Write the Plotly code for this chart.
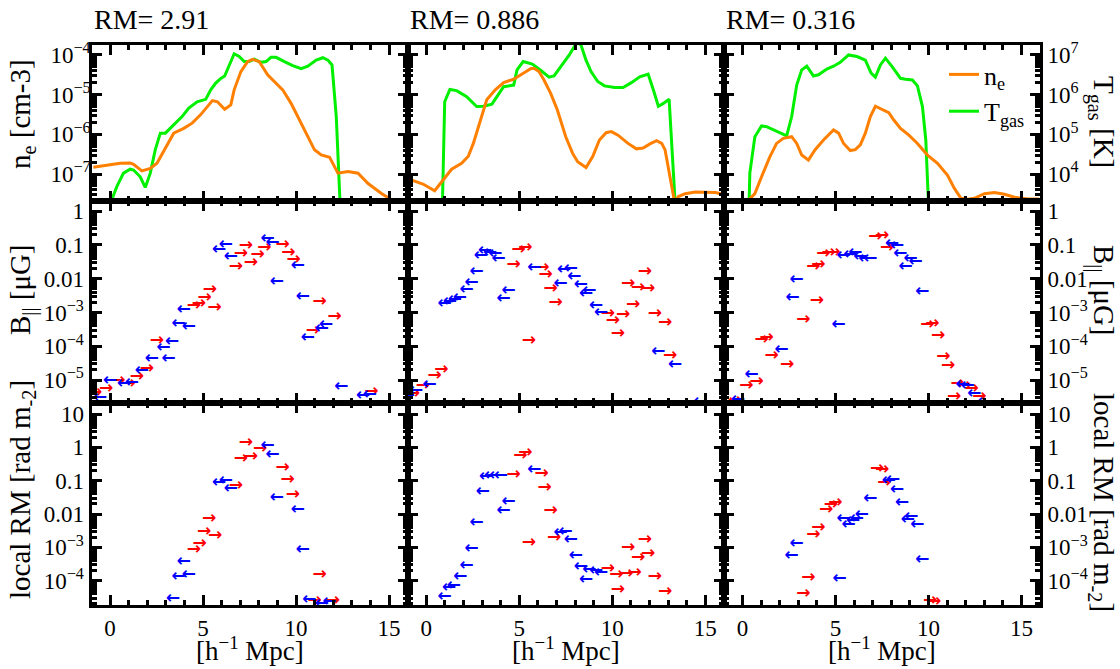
import plotly.graph_objects as go

# ---------------- data ----------------
panel_titles = ["RM= 2.91", "RM= 0.886", "RM= 0.316"]

# top row: electron density n_e [cm^-3] and gas temperature T_gas [K]
ne1_x = [-0.9, 0.0, 0.54, 1.08, 1.26, 1.71, 2.16, 2.52, 2.88, 3.42, 3.96, 4.41, 4.86, 5.50, 5.77, 6.16, 6.49, 6.67, 7.03, 7.39,
         7.66, 8.02, 8.47, 8.83, 9.28, 9.73, 10.18, 10.63, 10.99, 11.35, 11.80, 12.25, 12.79, 13.33, 13.87, 14.59, 15.3]
ne1_y = [1.48e-7, 1.70e-7, 1.86e-7, 1.9e-7, 1.75e-7, 1.2e-7, 1.38e-7, 1.86e-7, 3.63e-7, 1.07e-6, 1.41e-6, 1.91e-6, 3.09e-6,
         7.08e-6, 6.61e-6, 4.27e-6, 5.50e-6, 1.32e-5, 3.80e-5, 6.76e-5, 7.76e-5, 6.76e-5, 3.16e-5, 2.14e-5, 1.32e-5, 6.03e-6,
         2.29e-6, 8.71e-7, 4.07e-7, 3.02e-7, 2.63e-7, 1.05e-7, 1.15e-7, 1.05e-7, 5.75e-8, 3.24e-8, 2.0e-8]
T1_x = [0.05, 0.36, 0.72, 1.08, 1.26, 1.62, 1.89, 2.16, 2.43, 2.70, 2.97, 3.42, 3.87, 4.23, 4.68, 5.14, 5.41, 5.68, 5.95, 6.16,
        6.40, 6.67, 6.94, 7.21, 7.48, 7.75, 8.11, 8.38, 8.65, 8.92, 9.37, 9.82, 10.27, 10.63, 11.08, 11.44, 11.71, 11.93, 12.16, 12.36]
T1_y = [2.0e3, 4.8e3, 1.05e4, 1.32e4, 1.26e4, 8.5e3, 4.6e3, 1.05e4, 4.1e4, 1.07e5, 1.07e5, 1.74e5, 2.8e5, 4.6e5, 6.6e5, 7.6e5,
        1.32e6, 1.95e6, 2.57e6, 2.95e6, 5.6e6, 1.07e7, 9.1e6, 6.8e6, 6.8e6, 7.8e6, 6.5e6, 6.8e6, 8.7e6, 8.7e6, 6.8e6, 5.4e6,
        4.5e6, 5.2e6, 7.4e6, 8.5e6, 7.4e6, 5.6e6, 2.8e5, 2.0e3]

ne2_x = [-0.94, -0.18, 0.45, 0.90, 1.36, 1.90, 2.26, 2.53, 2.89, 3.25, 3.71, 4.16, 4.70, 5.15, 5.61, 5.79, 6.06, 6.33, 6.69, 7.05,
         7.50, 7.87, 8.14, 8.59, 8.95, 9.31, 9.67, 9.95, 10.31, 10.85, 11.30, 11.66, 12.03, 12.39, 12.66, 12.84, 13.06, 13.35,
         13.56, 13.92, 14.47, 15.01, 15.55, 15.95]
ne2_y = [7.4e-8, 5.6e-8, 3.8e-8, 7.1e-8, 1.32e-7, 1.86e-7, 2.8e-7, 5.9e-7, 2.09e-6, 7.4e-6, 1.32e-5, 2.0e-5, 2.45e-5, 3.3e-5,
         4.5e-5, 4.6e-5, 3.8e-5, 2.34e-5, 1.07e-5, 4.1e-6, 8.7e-7, 3.3e-7, 2.04e-7, 1.45e-7, 2.75e-7, 7.2e-7, 1.10e-6, 1.17e-6,
         9.5e-7, 5.9e-7, 4.3e-7, 4.5e-7, 5.75e-7, 6.9e-7, 5.9e-7, 4.1e-7, 1.05e-7, 2.0e-8, 2.7e-8, 3.2e-8, 3.5e-8, 3.5e-8,
         3.4e-8, 3.1e-8]
T2_x = [0.87, 0.99, 1.27, 1.63, 2.17, 2.71, 3.07, 3.53, 3.80, 4.16, 4.70, 4.88, 5.21, 5.70, 6.15, 6.60, 6.87, 7.32, 7.69, 7.96,
        8.14, 8.32, 8.59, 8.86, 9.22, 9.58, 10.13, 10.58, 11.03, 11.48, 11.93, 12.21, 12.48, 12.75, 13.06, 13.38]
T2_y = [2.0e3, 6.6e5, 1.35e6, 1.26e6, 8.9e5, 5.0e5, 5.1e5, 5.75e5, 8.9e5, 1.58e6, 1.74e6, 4.2e6, 6.8e6, 5.9e6, 4.1e6, 2.75e6,
        2.95e6, 5.6e6, 1.0e7, 1.62e7, 2.04e7, 1.78e7, 7.4e6, 3.8e6, 2.14e6, 1.66e6, 1.51e6, 1.51e6, 2.0e6, 2.8e6, 3.3e6,
        1.32e6, 5.1e5, 6.0e5, 7.6e5, 2.0e3]

ne3_x = [0.25, 0.67, 1.03, 1.48, 1.84, 2.20, 2.65, 2.92, 3.19, 3.55, 3.91, 4.36, 4.90, 5.17, 5.44, 5.80, 6.07, 6.34, 6.61, 6.88,
         7.15, 7.51, 7.87, 8.14, 8.50, 8.95, 9.41, 9.95, 10.49, 11.03, 11.39, 11.75, 12.11, 12.47, 13.01, 13.55, 14.09, 14.63,
         15.35, 15.95]
ne3_y = [2.0e-8, 3.2e-8, 8.5e-8, 2.75e-7, 5.9e-7, 7.9e-7, 8.7e-7, 5.9e-7, 3.0e-7, 2.24e-7, 4.1e-7, 7.2e-7, 1.29e-6, 1.07e-6,
         5.9e-7, 3.9e-7, 4.1e-7, 5.4e-7, 1.07e-6, 2.8e-6, 5.1e-6, 4.3e-6, 3.5e-6, 2.29e-6, 1.41e-6, 9.5e-7, 5.9e-7, 3.0e-7,
         1.86e-7, 9.3e-8, 4.4e-8, 2.45e-8, 2.3e-8, 2.45e-8, 3.2e-8, 3.4e-8, 3.1e-8, 2.6e-8, 2.35e-8, 2.35e-8]
T3_x = [0.36, 0.40, 0.67, 1.03, 1.30, 1.66, 2.02, 2.38, 2.65, 2.92, 3.19, 3.46, 3.82, 4.09, 4.54, 4.90, 5.26, 5.71, 6.16, 6.61,
        6.92, 7.15, 7.42, 7.69, 8.05, 8.50, 8.77, 9.14, 9.41, 9.68, 9.86, 10.0]
T3_y = [2.0e3, 1.05e4, 8.7e4, 1.62e5, 1.55e5, 1.29e5, 1.10e5, 9.1e4, 2.8e5, 1.74e6, 4.2e6, 5.2e6, 2.95e6, 3.16e6, 4.4e6, 5.2e6,
        6.5e6, 1.0e7, 9.1e6, 7.4e6, 3.5e6, 2.75e6, 5.6e6, 8.3e6, 5.1e6, 2.57e6, 2.45e6, 2.34e6, 1.66e6, 5.0e5, 7.2e4, 2.0e3]

# middle row: |B_parallel| [muG]; red = pointing +x, blue = pointing -x
B1_pos_x = [-0.81, -0.22, 0.45, 0.99, 1.44, 1.98, 2.52, 4.50, 4.77, 5.08, 5.37, 5.62, 6.76, 7.03, 7.30, 7.57, 7.93, 8.29,
            9.28, 9.59, 9.87, 10.90, 11.26, 12.07, 14.05]
B1_pos_y = [4.2e-6, 5.5e-6, 9.3e-6, 7.8e-6, 1.29e-5, 2.19e-5, 1.45e-4, 1.55e-3, 1.86e-3, 2.8e-3, 4.6e-3, 1.41e-3, 0.0219,
            0.056, 0.093, 0.029, 0.050, 0.085, 0.100, 0.060, 0.037, 2.9e-4, 2.1e-3, 7.4e-4, 4.4e-6]
B1_neg_x = [-0.54, 0.0, 0.76, 1.17, 1.71, 2.25, 2.88, 3.15, 3.33, 3.69, 3.96, 4.23, 5.86, 6.22, 6.49, 8.47, 8.74, 8.97,
            10.09, 10.36, 10.63, 11.39, 11.62, 12.43, 13.60, 13.96]
B1_neg_y = [3.0e-6, 9.3e-6, 7.8e-6, 8.5e-6, 1.86e-5, 4.3e-5, 8.9e-5, 4.3e-5, 1.35e-4, 4.7e-4, 1.23e-3, 3.9e-4, 0.071, 0.100,
            0.045, 0.148, 0.117, 8.1e-3, 0.024, 2.95e-3, 1.82e-4, 3.3e-4, 4.2e-4, 6.5e-6, 3.5e-6, 3.7e-6]

B2_pos_x = [-0.72, -0.18, 0.45, 0.81, 4.70, 4.97, 5.33, 5.52, 6.24, 6.42, 6.69, 6.96, 9.76, 10.04, 10.31, 10.58, 10.85, 11.12,
            11.39, 11.75, 11.93, 12.30, 12.84, 13.11]
B2_pos_y = [3.9e-6, 6.9e-6, 1.32e-5, 1.95e-5, 0.0257, 0.074, 0.085, 1.45e-4, 0.0204, 0.0129, 5.1e-3, 1.95e-3, 9.3e-4, 5.6e-4,
            2.4e-4, 8.3e-4, 7.2e-3, 1.66e-3, 5.4e-3, 0.0162, 5.1e-3, 8.9e-4, 4.9e-4, 5.4e-5]
B2_neg_x = [-0.99, -0.54, 0.18, 0.99, 1.27, 1.54, 1.81, 2.17, 2.44, 2.71, 2.93, 3.16, 3.44, 3.71, 3.89, 4.16, 4.43, 5.82,
            7.23, 7.41, 7.78, 7.96, 8.32, 8.59, 8.77, 9.13, 9.40, 12.48, 13.38, 14.74]
B2_neg_y = [3.5e-6, 4.9e-6, 7.4e-6, 1.86e-3, 2.1e-3, 2.34e-3, 2.8e-3, 4.6e-3, 7.6e-3, 0.0162, 0.047, 0.068, 0.059, 0.054,
            0.040, 2.6e-3, 4.4e-3, 0.0204, 6.9e-3, 0.0182, 0.0191, 0.0115, 6.8e-3, 3.5e-3, 4.4e-3, 1.55e-3, 9.8e-4, 7.1e-5,
            2.75e-5, 2.24e-6]

B3_pos_x = [-0.8, -0.41, 0.22, 0.76, 1.03, 1.30, 1.57, 2.41, 3.28, 4.00, 3.82, 4.09, 4.36, 4.63, 4.90, 7.15, 7.51, 7.78,
            9.95, 10.22, 10.52, 10.81, 11.06, 11.39, 11.57, 11.93, 12.32, 12.74]
B3_pos_y = [2.24e-6, 2.4e-6, 6.9e-6, 8.7e-6, 1.58e-4, 1.82e-4, 5.4e-5, 2.9e-5, 5.9e-4, 2.24e-3, 0.0229, 0.0251, 0.056, 0.059,
            0.060, 0.178, 0.186, 0.085, 4.2e-4, 4.5e-4, 2.0e-4, 4.8e-5, 2.6e-5, 3.2e-6, 7.8e-6, 6.9e-6, 5.5e-6, 3.2e-6]
B3_neg_x = [-0.23, 0.49, 2.11, 2.70, 2.92, 5.17, 5.44, 5.80, 6.07, 6.34, 6.61, 6.88, 8.05, 8.32, 8.50, 9.05, 9.32, 8.77,
            9.68, 11.84, 12.11, 12.47, 13.01]
B3_neg_y = [2.6e-6, 1.45e-5, 7.9e-5, 2.8e-3, 9.1e-3, 4.2e-4, 0.047, 0.052, 0.060, 0.045, 0.040, 0.040, 0.107, 0.093, 0.056,
            0.040, 0.032, 0.0219, 4.1e-3, 7.4e-6, 6.9e-6, 3.9e-6, 2.24e-6]

# bottom row: |local RM| [rad m^-2]
R1_pos_x = [7.30, 8.07, 7.03, 7.57, 9.28, 9.55, 9.82, 6.76, 5.32, 5.05, 5.64, 4.81, 4.50, 11.26, 10.99, 11.98]
R1_pos_y = [1.38, 0.93, 0.47, 0.52, 0.25, 0.105, 0.037, 0.071, 7.4e-3, 2.95e-3, 2.24e-3, 1.32e-3, 8.3e-4, 1.48e-4, 2.5e-5, 2.5e-5]
R1_neg_x = [8.47, 8.74, 5.86, 6.22, 6.49, 8.97, 10.09, 10.36, 3.96, 3.69, 4.23, 3.39, 10.72, 11.39, 11.80]
R1_neg_y = [1.10, 0.59, 0.087, 0.100, 0.056, 0.031, 0.0132, 8.3e-4, 3.7e-4, 1.32e-4, 1.55e-4, 2.95e-5, 2.6e-5, 2.0e-5, 2.34e-5]

R2_pos_x = [4.70, 5.06, 5.33, 5.52, 6.20, 6.37, 6.69, 6.87, 9.76, 10.22, 10.31, 10.76, 11.21, 10.85, 11.39, 11.75, 11.93, 12.30, 12.84]
R2_pos_y = [0.148, 0.55, 0.69, 1.41e-3, 0.166, 0.062, 0.0123, 2.0e-3, 2.34e-4, 1.48e-4, 5.5e-5, 1.58e-4, 1.74e-4, 9.8e-4, 5.0e-4,
            1.66e-3, 6.3e-4, 1.32e-4, 4.5e-5]
R2_neg_x = [0.99, 1.23, 1.48, 1.84, 2.17, 2.44, 2.71, 3.04, 3.22, 3.49, 3.76, 4.01, 4.16, 4.43, 5.82, 7.23, 7.50, 7.78, 8.05,
            8.32, 8.59, 8.77, 9.13, 9.40]
R2_neg_y = [3.3e-5, 6.2e-5, 7.1e-5, 1.32e-4, 2.75e-4, 9.3e-4, 5.5e-3, 0.045, 0.132, 0.138, 0.141, 0.145, 0.0123, 0.0234, 0.219,
            2.75e-3, 2.95e-3, 1.66e-3, 5.5e-4, 2.6e-4, 1.10e-4, 2.2e-4, 1.95e-4, 1.78e-4]

R3_pos_x = [3.28, 3.55, 3.82, 4.09, 4.50, 4.76, 5.00, 7.24, 7.51, 7.64, 10.09, 10.31]
R3_pos_y = [4.0e-5, 1.26e-4, 2.34e-3, 3.8e-3, 0.0135, 0.0186, 0.0224, 0.224, 0.214, 0.085, 2.5e-5, 2.34e-5]
R3_neg_x = [2.65, 2.92, 5.23, 5.44, 5.71, 5.95, 6.16, 6.43, 6.88, 7.87, 8.11, 8.32, 8.59, 8.90, 9.08, 9.41, 9.68]
R3_neg_y = [5.6e-4, 1.26e-3, 1.17e-4, 7.4e-3, 4.7e-3, 6.3e-3, 7.1e-3, 9.3e-3, 0.0295, 0.100, 0.107, 0.052, 0.0224, 6.8e-3,
            8.5e-3, 4.7e-3, 4.3e-4]

x_ticks = [0, 5, 10, 15]
ne_ticks = [1e-7, 1e-6, 1e-5, 1e-4]
ne_text = ["10<sup>−7</sup>", "10<sup>−6</sup>", "10<sup>−5</sup>", "10<sup>−4</sup>"]
T_ticks = [1e4, 1e5, 1e6, 1e7]
T_text = ["10<sup>4</sup>", "10<sup>5</sup>", "10<sup>6</sup>", "10<sup>7</sup>"]
B_ticks = [1, 0.1, 0.01, 1e-3, 1e-4, 1e-5]
B_text = ["1", "0.1", "0.01", "10<sup>−3</sup>", "10<sup>−4</sup>", "10<sup>−5</sup>"]
RM_ticks = [10, 1, 0.1, 0.01, 1e-3, 1e-4]
RM_text = ["10", "1", "0.1", "0.01", "10<sup>−3</sup>", "10<sup>−4</sup>"]

# ---------------- layout geometry ----------------
W, H = 1120, 669
colx = [(91.5, 407.7), (407.7, 723.8), (723.8, 1040.0)]
rowy = [(45, 201), (201, 403), (403, 605)]
FONT = "Liberation Serif"
ORANGE, GREEN = "#FF8000", "#00F000"
RED, BLUE = "#FF0000", "#0000FF"

ne_range = [-7.68, -3.75]
T_range = [3.32, 7.25]
B_range = [-5.68, 0.30]
RM_range = [-4.73, 1.33]

minor_log = [k * 10.0 ** n for n in range(-10, 10) for k in range(2, 10)]

def xdom(c):
    return [colx[c][0] / W, colx[c][1] / W]

def ydom(r):
    return [1 - rowy[r][1] / H, 1 - rowy[r][0] / H]

TICKFONT = dict(family=FONT, size=23, color="black")
common = dict(showline=True, linecolor="black", linewidth=3, ticks="inside", ticklen=10, tickwidth=2.5,
              tickcolor="black", mirror="ticks", showgrid=False, zeroline=False, automargin=False,
              tickfont=TICKFONT)

fig = go.Figure()
layout = dict(template="none", width=W, height=H, margin=dict(l=0, r=0, t=0, b=0, pad=0),
              paper_bgcolor="white", plot_bgcolor="white",
              font=dict(family=FONT, color="black", size=23))

def axname(prefix, i):
    return prefix if i == 1 else f"{prefix}{i}"

for r in range(3):
    for c in range(3):
        i = r * 3 + c + 1
        layout[axname("xaxis", i)] = dict(
            domain=xdom(c), anchor=f"y{i}", range=[-1, 16], tickmode="array", tickvals=x_ticks,
            ticktext=[str(v) for v in x_ticks], showticklabels=(r == 2),
            minor=dict(ticks="inside", ticklen=5, tickwidth=2.5, tickcolor="black", dtick=1, tick0=0, showgrid=False),
            **common)
        if r == 0:
            rng, tv, tt, show = T_range, T_ticks, T_text, (c == 2)
        elif r == 1:
            rng, tv, tt, show = B_range, B_ticks, B_text, (c != 1)
        else:
            rng, tv, tt, show = RM_range, RM_ticks, RM_text, (c != 1)
        layout[axname("yaxis", i)] = dict(
            domain=ydom(r), anchor=f"x{i}", type="log", range=rng, tickmode="array", tickvals=tv, ticktext=tt,
            showticklabels=show, side=("right" if c == 2 else "left"),
            minor=dict(ticks="inside", ticklen=5, tickwidth=2.5, tickcolor="black", tickmode="array",
                       tickvals=minor_log, showgrid=False),
            **common)

# overlay n_e axes for the top row
for c in range(3):
    j = 10 + c
    layout[f"yaxis{j}"] = dict(overlaying=f"y{c+1}", anchor=f"x{c+1}", type="log", range=ne_range, side="left",
                               tickmode="array", tickvals=ne_ticks, ticktext=ne_text, showticklabels=(c == 0),
                               ticks="", showline=False, showgrid=False, zeroline=False, automargin=False,
                               tickfont=TICKFONT)

T_data = [(T1_x, T1_y), (T2_x, T2_y), (T3_x, T3_y)]
ne_data = [(ne1_x, ne1_y), (ne2_x, ne2_y), (ne3_x, ne3_y)]
for c in range(3):
    fig.add_trace(go.Scatter(x=T_data[c][0], y=T_data[c][1], mode="lines", line=dict(color=GREEN, width=3),
                             name="T<sub>gas</sub>", legendrank=2, showlegend=(c == 0),
                             xaxis=f"x{c+1}", yaxis=f"y{c+1}", hoverinfo="skip"))
    fig.add_trace(go.Scatter(x=ne_data[c][0], y=ne_data[c][1], mode="lines", line=dict(color=ORANGE, width=3),
                             name="n<sub>e</sub>", legendrank=1, showlegend=(c == 0),
                             xaxis=f"x{c+1}", yaxis=f"y{10+c}", hoverinfo="skip"))

arrow_sets = [
    (1, [(B1_pos_x, B1_pos_y, B1_neg_x, B1_neg_y), (B2_pos_x, B2_pos_y, B2_neg_x, B2_neg_y), (B3_pos_x, B3_pos_y, B3_neg_x, B3_neg_y)]),
    (2, [(R1_pos_x, R1_pos_y, R1_neg_x, R1_neg_y), (R2_pos_x, R2_pos_y, R2_neg_x, R2_neg_y), (R3_pos_x, R3_pos_y, R3_neg_x, R3_neg_y)]),
]
for r, sets in arrow_sets:
    for c, (px, py, nx, ny) in enumerate(sets):
        i = r * 3 + c + 1
        fig.add_trace(go.Scatter(x=px, y=py, mode="text", text=["→"] * len(px), textposition="middle center",
                                 textfont=dict(family="DejaVu Sans", size=17, color=RED, weight="bold"),
                                 showlegend=False, xaxis=f"x{i}", yaxis=f"y{i}", hoverinfo="skip"))
        fig.add_trace(go.Scatter(x=nx, y=ny, mode="text", text=["←"] * len(nx), textposition="middle center",
                                 textfont=dict(family="DejaVu Sans", size=17, color=BLUE, weight="bold"),
                                 showlegend=False, xaxis=f"x{i}", yaxis=f"y{i}", hoverinfo="skip"))

layout["legend"] = dict(x=944 / W, y=1 - 51 / H, xanchor="left", yanchor="top", bgcolor="rgba(0,0,0,0)",
                        font=dict(family=FONT, size=26, color="black"), itemwidth=30, tracegroupgap=0)

ann = []
for c in range(3):
    ann.append(dict(text=panel_titles[c], x=colx[c][0] / W, y=1 - 19 / H, xref="paper", yref="paper",
                    xanchor="left", yanchor="middle", showarrow=False, font=dict(family=FONT, size=28, color="black")))
    ann.append(dict(text="[h<sup>−1</sup> Mpc]", x=(colx[c][0] + colx[c][1]) / 2 / W, y=1 - 649 / H, xref="paper",
                    yref="paper", xanchor="center", yanchor="middle", showarrow=False,
                    font=dict(family=FONT, size=27, color="black")))
left_titles = [("n<sub>e</sub> [cm-3]", 114), ("B<sub>||</sub> [μG]", 290), ("local RM [rad m<sub>-2</sub>]", 490)]
right_titles = [("T<sub>gas</sub> [K]", 122), ("B<sub>||</sub> [μG]", 290), ("local RM [rad m<sub>-2</sub>]", 502)]
for t, yc in left_titles:
    ann.append(dict(text=t, x=22 / W, y=1 - yc / H, xref="paper", yref="paper", xanchor="center", yanchor="middle",
                    textangle=-90, showarrow=False, font=dict(family=FONT, size=29, color="black")))
for t, yc in right_titles:
    ann.append(dict(text=t, x=1102 / W, y=1 - yc / H, xref="paper", yref="paper", xanchor="center", yanchor="middle",
                    textangle=90, showarrow=False, font=dict(family=FONT, size=29, color="black")))
layout["annotations"] = ann

fig.update_layout(**layout)
fig.write_html("out.html", config={"displayModeBar": False},
               post_script="document.body.style.margin='0px';document.body.style.padding='0px';")
